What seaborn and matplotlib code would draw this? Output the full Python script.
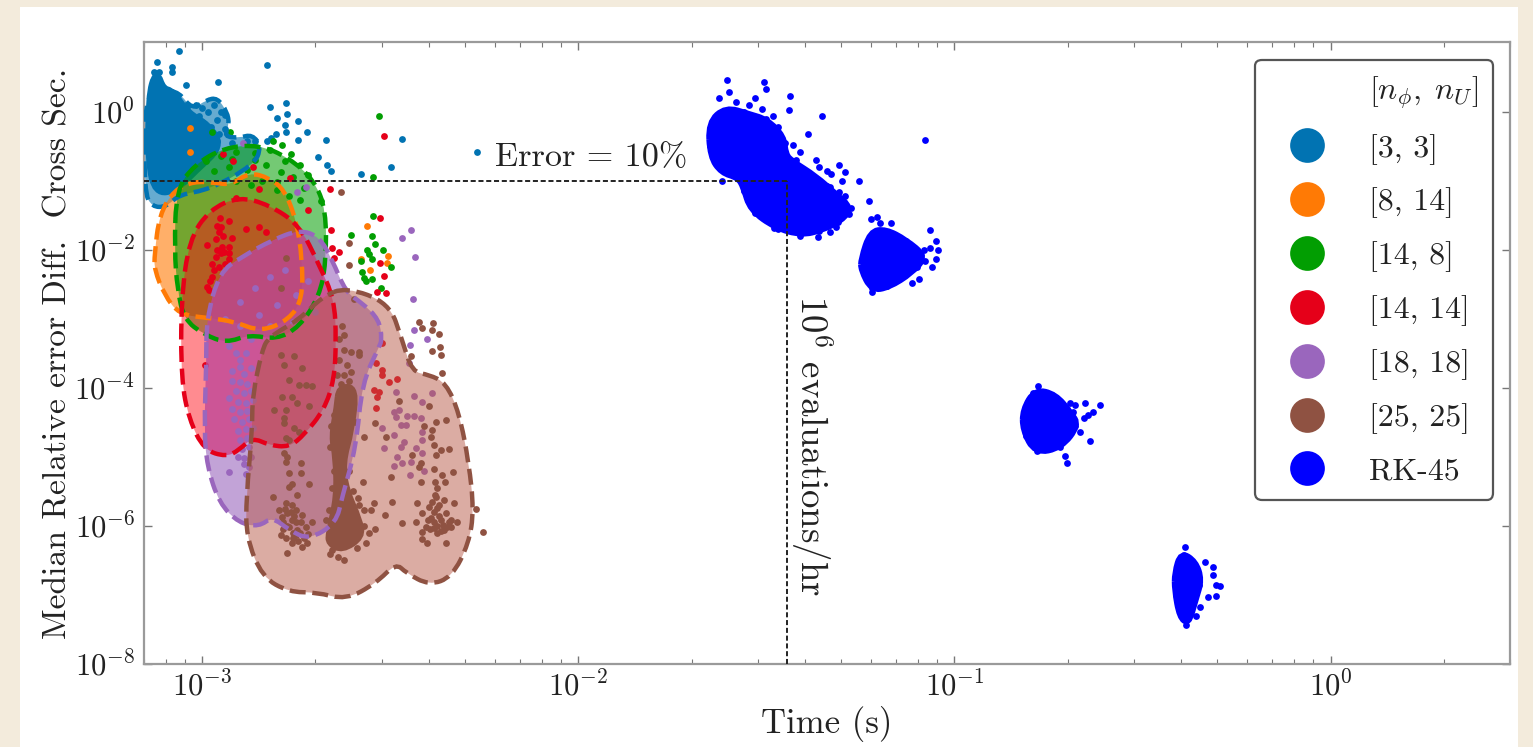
import numpy as np
import pandas as pd
import matplotlib
matplotlib.use('Agg')
import matplotlib.pyplot as plt
import seaborn as sns
from matplotlib.lines import Line2D
from matplotlib.patches import PathPatch, Rectangle
from matplotlib.path import Path
from matplotlib.ticker import LogLocator, NullFormatter

# all values are log10(time), log10(error)
labels = ['[3, 3]', '[8, 14]', '[14, 8]', '[14, 14]', '[18, 18]', '[25, 25]', 'RK-45']
colors = ['#0173b2', '#ff7a05', '#029e02', '#e50019', '#9a66bd', '#8f5242', '#0000ff']
fill_colors = ['#0173b2', '#ff7a05', '#029e02', '#ff0a14', '#9a66bd', '#b85a48']
fill_alpha = [0.6, 0.6, 0.55, 0.47, 0.6, 0.5]

# contour outlines
outline_3_3 = [(-3.154,.22),(-3.106,.32),(-3.061,.28),(-3.027,.03),(-2.989,.17),(-2.96,.20),(-2.934,0),(-2.928,-.19),
               (-2.942,-.36),(-2.902,-.38),(-2.867,-.33),(-2.843,-.51),(-2.862,-.77),(-2.981,-1.13),(-3.061,-1.20),
               (-3.096,-1.38),(-3.133,-1.38),(-3.154,-1.17)]
outline_8_14 = [(-3.127,-2.07),(-3.114,-1.49),(-3.074,-1.13),(-3.021,-1.01),(-2.968,-1.03),(-2.923,-1.06),(-2.875,-.88),
                (-2.822,-.96),(-2.782,-1.13),(-2.75,-1.57),(-2.734,-2.14),(-2.734,-2.72),(-2.769,-3.01),(-2.843,-3.19),
                (-2.915,-3.04),(-2.981,-2.99),(-3.061,-2.94),(-3.101,-2.65),(-3.127,-2.29)]
outline_14_8 = [(-3.069,-1.13),(-3.021,-.77),(-2.942,-.52),(-2.849,-.48),(-2.769,-.67),(-2.703,-.99),(-2.671,-1.42),
                (-2.671,-2.19),(-2.689,-2.68),(-2.742,-3.12),(-2.803,-3.30),(-2.875,-3.23),(-2.936,-3.35),(-2.995,-3.23),
                (-3.048,-3.01),(-3.066,-2.58),(-3.074,-2.0)]
outline_14_14 = [(-3.056,-2.72),(-3.035,-1.86),(-2.981,-1.42),(-2.902,-1.23),(-2.822,-1.35),(-2.742,-1.64),(-2.689,-2.22),
                 (-2.649,-2.72),(-2.644,-3.30),(-2.649,-3.88),(-2.676,-4.32),(-2.729,-4.68),(-2.769,-4.86),(-2.822,-4.83),
                 (-2.867,-4.72),(-2.902,-4.90),(-2.936,-5.0),(-2.995,-4.90),(-3.035,-4.46),(-3.056,-3.88)]
outline_18_18 = [(-2.989,-3.01),(-2.955,-2.33),(-2.894,-2.10),(-2.814,-1.86),(-2.742,-1.71),(-2.689,-1.81),(-2.655,-2.14),
                 (-2.618,-2.62),(-2.575,-2.77),(-2.53,-3.01),(-2.522,-3.30),(-2.53,-3.41),(-2.575,-3.93),(-2.591,-4.86),
                 (-2.628,-5.58),(-2.644,-5.96),(-2.716,-6.20),(-2.769,-6.06),(-2.814,-5.87),(-2.849,-6.01),(-2.902,-5.96),
                 (-2.955,-5.67),(-2.987,-5.14),(-2.995,-4.61),(-2.989,-3.64)]
outline_25_25 = [(-2.618,-2.54),(-2.503,-2.77),(-2.469,-3.30),(-2.442,-3.77),(-2.397,-3.81),(-2.352,-3.93),(-2.317,-4.36),
                 (-2.291,-5.09),(-2.278,-5.77),(-2.291,-6.25),(-2.336,-6.74),(-2.397,-6.86),(-2.458,-6.68),(-2.485,-6.54),
                 (-2.538,-6.83),(-2.618,-7.07),(-2.697,-6.96),(-2.769,-6.96),(-2.841,-6.74),(-2.883,-6.16),(-2.883,-5.58),
                 (-2.867,-4.61),(-2.867,-4.13),(-2.841,-3.45),(-2.822,-3.26),(-2.742,-3.01),(-2.681,-2.68)]
outlines = [outline_3_3, outline_8_14, outline_14_8, outline_14_14, outline_18_18, outline_25_25]

# dense parts, where the points merge into one solid area
core_3_3 = [(-3.14,.22),(-3.122,.57),(-3.106,.32),(-3.08,.29),(-3.04,-.03),(-2.985,-.2),(-2.95,-.5),(-3.02,-.85),
            (-3.07,-1.13),(-3.122,-1.17),(-3.141,-.74)]
core_25_25 = [(-2.636,-3.99),(-2.591,-4.0),(-2.604,-4.61),(-2.628,-5.09),(-2.618,-5.48),(-2.583,-5.91),(-2.575,-6.16),
              (-2.628,-6.35),(-2.663,-6.25),(-2.663,-6.10),(-2.641,-5.58),(-2.644,-5.0),(-2.655,-4.71),(-2.641,-4.28)]
rk_core_a = [(-1.653,-.16),(-1.608,.06),(-1.547,-.04),(-1.499,-.12),(-1.455,-.36),(-1.45,-.62),(-1.433,-.72),(-1.369,-.94),
             (-1.316,-1.20),(-1.276,-1.39),(-1.30,-1.57),(-1.353,-1.71),(-1.406,-1.78),(-1.475,-1.68),(-1.542,-1.42),
             (-1.56,-1.09),(-1.575,-.95),(-1.619,-.88),(-1.648,-.65)]
rk_core_b = [(-1.247,-2.14),(-1.223,-1.74),(-1.183,-1.71),(-1.13,-1.86),(-1.077,-2.10),(-1.114,-2.33),(-1.175,-2.54),
             (-1.22,-2.58),(-1.247,-2.29)]
rk_core_c = [(-.817,-4.32),(-.785,-4.03),(-.732,-4.10),(-.692,-4.36),(-.671,-4.54),(-.716,-4.86),(-.785,-4.94),(-.817,-4.61)]
rk_core_d = [(-.413,-6.68),(-.397,-6.39),(-.36,-6.52),(-.344,-6.78),(-.36,-7.07),(-.378,-7.41),(-.40,-7.32),(-.413,-6.93)]

# single points
pts_3_3 = [(-3.061,.88),(-3.12,.72),(-3.08,.64),(-3.08,.57),(-3.042,.38),(-2.958,.43),(-2.827,.67),(-2.819,.07),(-2.777,.13),
           (-2.801,-.09),(-2.774,-.04),(-2.745,-.14),(-2.78,-.20),(-2.777,-.30),(-2.721,-.30),(-2.745,-.41),(-2.671,-.41),
           (-2.692,-.65),(-2.668,-.78),(-2.657,-.86),(-2.578,-.90),(-2.498,-.80),(-2.469,-.39),(-2.27,-.58),(-2.803,-.33),
           (-2.817,-.38),(-2.827,-.43),(-3.127,.58),(-3.114,.58),(-3.12,.46),(-3.109,.36),(-3.008,-.07),(-2.976,-.22),
           (-2.96,-.12),(-2.95,0),(-3.016,.10),(-3.04,.06),(-2.995,-.22),(-2.955,-.33),(-3.008,-.33),
           (-3.0,.05),(-2.97,.1),(-2.94,-.05),(-2.94,-.25),(-2.985,0),(-3.03,-.1),(-3.0,-.15),(-2.96,-.42),(-2.92,-.45),
           (-2.88,-.42),(-2.86,-.42),(-3.13,.45),(-3.12,.4)]
pts_8_14 = [(-3.032,-.23),(-3.032,-.59),(-2.562,-1.65),(-2.506,-2.09),(-2.509,-2.19),(-2.554,-2.29),(-2.578,-2.14)]
pts_14_8 = [(-2.53,-.07),(-2.546,-.94),(-2.546,-1.51),(-2.604,-1.78),(-2.548,-1.80),(-2.54,-1.91),(-2.562,-2.0),(-2.556,-2.06),
            (-2.548,-2.14),(-2.519,-2.0),(-2.498,-2.25),(-2.578,-2.17),(-2.575,-2.32),(-2.57,-2.41),(-2.564,-2.46),(-2.548,-2.43),
            (-2.525,-2.55),(-2.926,-.29),(-2.973,-.30),(-2.788,-.48),(-2.764,-.61),(-2.811,-.42),(-2.684,-1.30),(-2.99,-.72),
            (-2.95,-.64),(-2.91,-.58),(-2.86,-.60),(-2.82,-.55),(-2.78,-.72),(-2.74,-.78),(-2.72,-.92),(-2.97,-.86),(-2.93,-.80),
            (-2.88,-.85),(-2.83,-.78),(-2.79,-.88),(-2.76,-.95),(-2.84,-1.00),(-2.80,-1.02),(-2.73,-1.10),(-2.77,-1.22),
            (-2.74,-1.28),(-2.80,-1.14),(-2.87,-1.06),(-2.91,-1.0),(-2.86,-.70),(-2.92,-.68)]
pts_14_14 = [(-2.517,-.35),(-2.66,-1.12),(-2.718,-1.43),(-2.527,-1.54),(-2.657,-1.72),(-2.636,-2.04),(-2.655,-1.97),(-2.649,-2.12),
             (-2.527,-2.19),(-2.517,-2.38),(-2.511,-2.62),(-2.535,-2.61),(-2.952,-1.54),(-2.928,-1.59),(-2.95,-1.67),(-2.883,-1.70),
             (-2.849,-1.67),(-2.83,-1.75),(-2.955,-1.75),(-2.92,-1.83),(-2.963,-1.85),(-2.987,-1.93),(-2.947,-1.96),(-2.928,-1.96),
             (-2.942,-2.04),(-2.963,-2.10),(-2.928,-2.14),(-2.955,-2.25),(-2.973,-2.39),(-2.987,-2.54),(-2.981,-2.58),(-2.944,-.62),
             (-2.918,-.72),(-2.865,-.80),(-2.766,-.96),(-2.849,-1.12),(-2.91,-1.25),(-2.522,-3.35),(-2.538,-3.64),(-2.522,-3.74),
             (-2.522,-3.81),(-2.482,-3.87),(-2.503,-3.91),(-2.543,-4.03),(-2.53,-4.06),(-2.535,-4.14),(-2.538,-4.29),(-2.992,-3.67),
             (-2.95,-2.05),(-2.94,-2.2),(-2.96,-2.0),(-2.97,-2.3),(-2.945,-1.8),(-2.93,-2.05),(-2.96,-1.65),(-2.975,-2.2),(-2.98,-2.45)]
pts_18_18 = [(-2.445,-1.72),(-2.469,-1.83),(-2.434,-2.10),(-2.44,-2.71),(-2.437,-3.16),(-2.402,-3.29),(-2.448,-3.38),(-2.724,-1.09),
             (-2.748,-1.16),(-2.891,-.45),(-2.45,-3.64),(-2.485,-4.06),(-2.477,-4.32),(-2.49,-4.35),(-2.485,-4.42),(-2.471,-4.54),
             (-2.458,-4.54),(-2.437,-4.12),(-2.389,-4.07),(-2.416,-4.20),(-2.456,-4.41),(-2.437,-4.41),(-2.418,-4.43),(-2.416,-4.64),
             (-2.416,-4.75),(-2.463,-4.78),(-2.471,-4.85),(-2.482,-5.0),(-2.517,-4.87),(-2.49,-4.68),(-2.522,-4.58),(-2.432,-4.87),
             (-2.416,-4.94),(-2.49,-5.13),(-2.469,-5.09),(-2.445,-5.07),(-2.448,-5.26),(-2.41,-5.20),
             (-2.92,-3.75),(-2.90,-3.70),(-2.89,-3.80),(-2.87,-3.72),(-2.92,-3.90),(-2.90,-3.92),(-2.88,-3.95),(-2.91,-4.05),
             (-2.89,-4.08),(-2.87,-4.05),(-2.93,-4.15),(-2.905,-4.20),(-2.885,-4.22),(-2.865,-4.18),(-2.92,-4.30),(-2.90,-4.35),
             (-2.88,-4.33),(-2.915,-4.45),(-2.895,-4.50),(-2.875,-4.45),(-2.905,-4.62),(-2.885,-4.60),(-2.865,-4.58),(-2.90,-4.75),
             (-2.88,-4.72),(-2.895,-4.88),(-2.875,-4.85),(-2.87,-5.0),(-2.89,-5.02),(-2.93,-5.22),
             (-2.94,-3.0),(-2.90,-2.75),(-2.86,-2.55),(-2.82,-2.40),(-2.78,-2.30),(-2.90,-3.10),(-2.85,-2.95),(-2.80,-2.80),(-2.75,-2.65),
             (-2.93,-3.40),(-2.87,-3.30),(-2.82,-3.10),(-2.72,-2.45),(-2.70,-2.90),(-2.76,-3.05),
             (-2.89,-5.10),(-2.875,-5.15),(-2.905,-5.0),(-2.885,-5.25),(-2.90,-3.60),(-2.885,-3.50),(-2.91,-3.50)]
pts_25_25 = [(-2.636,-3.30),(-2.623,-3.45),(-2.604,-3.48),(-2.583,-3.52),(-2.636,-3.59),(-2.615,-3.67),(-2.604,-3.77),(-2.623,-3.81),
             (-2.641,-3.81),(-2.623,-3.23),(-2.583,-3.48),(-2.628,-3.10),(-2.596,-2.72),(-2.61,-1.90),(-2.61,-2.22),(-2.631,-1.17),
             (-2.79,-3.52),(-2.756,-3.54),(-2.782,-3.67),(-2.734,-3.71),(-2.769,-3.88),(-2.742,-3.96),(-2.724,-3.96),(-2.708,-3.98),
             (-2.788,-4.14),(-2.761,-4.14),(-2.748,-4.22),(-2.809,-4.32),(-2.716,-4.26),(-2.777,-4.32),(-2.782,-4.43),(-2.782,-4.51),
             (-2.756,-4.58),(-2.742,-4.64),(-2.657,-4.56),(-2.777,-4.72),(-2.769,-4.75),(-2.782,-4.94),(-2.774,-5.0),(-2.737,-5.09),
             (-2.777,-5.07),(-2.769,-5.23),(-2.737,-5.23),(-2.761,-5.40),(-2.769,-5.43),(-2.716,-5.39),(-2.748,-5.55),(-2.811,-5.58),
             (-2.777,-5.67),(-2.761,-5.69),(-2.795,-5.77),(-2.774,-5.81),(-2.75,-5.77),(-2.734,-5.84),(-2.788,-5.87),(-2.761,-5.91),
             (-2.737,-5.94),(-2.708,-5.94),(-2.769,-6.01),(-2.748,-6.06),(-2.79,-6.13),(-2.777,-6.17),(-2.761,-6.25),(-2.734,-6.30),
             (-2.774,-6.39),(-2.721,-6.25),(-2.75,-6.13),(-2.724,-6.01),(-2.663,-5.77),(-2.671,-5.91),(-2.556,-6.10),(-2.541,-6.04),
             (-2.588,-6.32),(-2.623,-6.49),(-2.655,-6.35),(-2.57,-5.77),(-2.543,-5.67),(-2.551,-5.77),(-2.514,-5.84),(-2.572,-5.36),
             (-2.583,-5.69),(-2.495,-5.65),(-2.469,-5.96),(-2.432,-5.94),(-2.429,-5.67),(-2.541,-4.51),(-2.511,-4.71),(-2.57,-4.71),
             (-2.498,-5.29),(-2.477,-4.19),(-2.397,-4.26),(-2.41,-4.56),(-2.389,-4.61),(-2.378,-4.49),(-2.352,-4.46),(-2.392,-4.71),
             (-2.384,-4.83),(-2.344,-4.88),(-2.365,-4.90),(-2.378,-4.97),(-2.442,-4.98),(-2.418,-5.09),(-2.424,-5.14),(-2.384,-5.17),
             (-2.363,-5.26),(-2.333,-5.22),(-2.418,-5.36),(-2.381,-5.36),(-2.355,-5.36),(-2.376,-5.45),(-2.378,-5.58),(-2.357,-5.62),
             (-2.331,-5.67),(-2.397,-5.72),(-2.416,-5.81),(-2.376,-5.74),(-2.352,-5.81),(-2.392,-5.88),(-2.365,-5.91),(-2.339,-5.91),
             (-2.323,-5.94),(-2.405,-6.01),(-2.384,-6.03),(-2.357,-6.06),(-2.416,-6.09),(-2.339,-6.01),(-2.376,-6.10),(-2.416,-6.19),
             (-2.402,-6.25),(-2.352,-6.25),(-2.272,-5.75),(-2.254,-6.09),(-2.424,-3.04),(-2.386,-3.06),(-2.389,-3.16),(-2.37,-3.22),
             (-2.416,-3.13),(-2.368,-3.41),(-2.389,-3.46),(-2.365,-3.52),(-2.445,-3.54),(-2.363,-3.78),(-2.79,-2.55),(-2.777,-2.12),
             (-2.65,-4.4),(-2.66,-4.85),(-2.65,-5.2),(-2.60,-4.2),(-2.595,-4.5),(-2.61,-5.2),(-2.60,-5.5),(-2.655,-5.45),(-2.585,-5.6),
             (-2.57,-6.0),(-2.565,-6.25),(-2.66,-6.4),(-2.64,-6.45),
             (-2.78,-5.75),(-2.765,-5.8),(-2.755,-5.85),(-2.785,-5.95),(-2.775,-6.0),(-2.75,-5.95),(-2.74,-6.1),(-2.76,-6.1),
             (-2.785,-6.05),(-2.73,-6.18),(-2.76,-6.18),(-2.72,-6.12),(-2.745,-6.22),
             (-2.39,-5.65),(-2.385,-5.8),(-2.37,-5.85),(-2.36,-5.98),(-2.385,-5.95),(-2.40,-5.92),(-2.375,-6.0),(-2.395,-6.05),
             (-2.365,-6.07),(-2.35,-6.02),(-2.345,-5.95),(-2.38,-5.55),(-2.37,-5.7),(-2.61,-3.9),(-2.63,-3.95)]
pts_rk = [(-1.606,.46),(-1.507,.43),(-1.502,.33),(-1.60,.28),(-1.627,.20),(-1.582,.14),(-1.529,.20),(-1.547,.10),(-1.513,.04),
          (-1.483,-.06),(-1.436,.22),(-1.441,.03),(-1.353,-.07),(-1.39,-.32),(-1.077,-.41),(-1.457,-.45),(-1.43,-.49),(-1.412,-.58),
          (-1.369,-.70),(-1.361,-.80),(-1.34,-.86),(-1.327,-.90),(-1.308,-.78),(-1.292,-.87),(-1.30,-1.01),(-1.255,-1.01),(-1.332,-1.09),
          (-1.308,-1.16),(-1.29,-1.22),(-1.274,-1.39),(-1.226,-1.29),(-1.316,-1.67),(-1.332,-1.74),(-1.364,-1.81),(-1.619,-1.01),
          (-1.481,-1.68),(-1.223,-1.55),(-1.207,-1.52),(-1.197,-1.62),(-1.17,-1.61),(-1.064,-1.71),(-1.05,-1.87),(-1.064,-1.97),
          (-1.045,-2.01),(-1.05,-2.14),(-1.061,-2.25),(-1.077,-2.17),(-1.10,-2.25),(-1.093,-2.42),(-1.114,-2.48),(-1.22,-2.61),
          (-.612,-4.25),(-.631,-4.35),(-.644,-4.39),(-.655,-4.43),(-.652,-4.22),(-.679,-4.25),(-.692,-4.22),(-.639,-4.77),(-.665,-4.64),
          (-.705,-4.99),(-.70,-5.09),(-.777,-3.97),(-.684,-4.35),(-.386,-6.30),(-.333,-6.52),(-.312,-6.59),(-.312,-6.71),(-.304,-6.86),
          (-.293,-6.87),(-.304,-7.01),(-.325,-7.03),(-.347,-7.17),(-.357,-7.30),(-.384,-7.43),
          (-1.64,-.30),(-1.65,-.5),(-1.63,-.75),(-1.60,.02),(-1.56,.0),(-1.50,-.10),(-1.47,-.22),(-1.45,-.45),(-1.42,-.70),(-1.38,-.95),
          (-1.34,-1.08),(-1.31,-1.28),(-1.28,-1.48),(-1.31,-1.6),(-1.36,-1.73),(-1.41,-1.8),(-1.47,-1.7),(-1.53,-1.47),(-1.56,-1.15),
          (-1.24,-2.2),(-1.22,-1.78),(-1.18,-1.74),(-1.13,-1.88),(-1.10,-2.05),(-1.12,-2.3),(-1.18,-2.52),(-1.22,-2.56),(-1.09,-2.08),
          (-1.08,-2.0),(-.815,-4.45),(-.79,-4.08),(-.74,-4.1),(-.70,-4.3),(-.68,-4.55),(-.72,-4.85),(-.78,-4.92),(-.81,-4.7),
          (-.41,-6.75),(-.39,-6.42),(-.36,-6.6),(-.35,-6.85),(-.37,-7.1),(-.38,-7.35),(-.41,-7.0)]
pts_all = [pts_3_3, pts_8_14, pts_14_8, pts_14_14, pts_18_18, pts_25_25, pts_rk]

# guide lines
err_level = 0.1
time_level = 0.0358


def smooth_path(pts):
    # closed quadratic curve, the typed points are its control points
    p = np.array(pts)
    mid = (p + np.roll(p, -1, axis=0)) / 2
    verts = [mid[-1]]
    codes = [Path.MOVETO]
    for i in range(len(p)):
        verts += [p[i], mid[i]]
        codes += [Path.CURVE3, Path.CURVE3]
    return Path(10 ** np.array(verts), codes)


sns.set_style('white')
plt.rcParams['font.family'] = ['cmr10', 'DejaVu Serif']
plt.rcParams['mathtext.fontset'] = 'cm'
plt.rcParams['axes.formatter.use_mathtext'] = True
plt.rcParams['axes.unicode_minus'] = False

fig = plt.figure(figsize=(15.33, 7.47), dpi=100, facecolor='#f3ebdc')
fig.add_artist(Rectangle((20 / 1533, 0), 1498 / 1533, 740 / 747, transform=fig.transFigure,
                         facecolor='white', edgecolor='none', zorder=-1))
ax = fig.add_axes([144 / 1533, 83 / 747, 1366 / 1533, 622 / 747])
ax.set_xscale('log')
ax.set_yscale('log')
ax.set_xlim(7.0e-4, 3.0)
ax.set_ylim(1e-8, 10.2)
ax.patch.set_alpha(0)

z = 2
for i in range(6):
    patch = ax.add_patch(PathPatch(smooth_path(outlines[i]), facecolor=fill_colors[i], alpha=fill_alpha[i],
                                   edgecolor='none', zorder=z))
    if i == 0:
        ax.add_patch(PathPatch(smooth_path(core_3_3), facecolor=colors[0], edgecolor=colors[0], lw=6, zorder=z))
    if i == 4:
        # red and purple overlap shows up pink
        pink = ax.add_patch(PathPatch(smooth_path(outline_14_14), facecolor='#d9307f', alpha=0.45, edgecolor='none', zorder=z))
        pink.set_clip_path(patch)
    if i == 5:
        ax.add_patch(PathPatch(smooth_path(core_25_25), facecolor=colors[5], edgecolor=colors[5], lw=5, zorder=z))
    # dashed contours stay visible over the other fills
    ax.add_patch(PathPatch(smooth_path(outlines[i]), facecolor='none', edgecolor=colors[i], lw=3.2,
                           linestyle=(0, (3.6, 1.5)), zorder=8))
    df = pd.DataFrame(pts_all[i], columns=['t', 'e'])
    sns.scatterplot(x=10 ** df['t'], y=10 ** df['e'], color=colors[i], s=24, linewidth=0, ax=ax, legend=False, zorder=z)
    z += 1

for core in [rk_core_a, rk_core_b, rk_core_c, rk_core_d]:
    ax.add_patch(PathPatch(smooth_path(core), facecolor=colors[6], edgecolor=colors[6], lw=5, zorder=z))
df = pd.DataFrame(pts_rk, columns=['t', 'e'])
sns.scatterplot(x=10 ** df['t'], y=10 ** df['e'], color=colors[6], s=24, linewidth=0, ax=ax, legend=False, zorder=z)

# 10% error and 10^6 evaluations/hr lines
ax.plot([7.0e-4, time_level], [err_level, err_level], color='#222222', lw=1.4, ls=(0, (2.6, 1.4)), zorder=9)
ax.plot([time_level, time_level], [1e-8, err_level], color='#222222', lw=1.4, ls=(0, (2.6, 1.4)), zorder=9)
ax.text(0.006, 0.22, 'Error = 10%', fontsize=24.6, ha='left', va='center', color='#222222', zorder=10)
ax.text(0.0418, 1.45e-5, r'$10^{6}$ evaluations/hr', fontsize=26.5, rotation=270, ha='center', va='center',
        color='#222222', zorder=10)

ax.set_xlabel('Time (s)', fontsize=25, color='#222222', labelpad=2.4)
ax.set_ylabel('Median Relative error Diff.  Cross Sec.', fontsize=24.2, color='#222222', labelpad=1.5)

ax.xaxis.set_major_locator(LogLocator(base=10, numticks=8))
ax.xaxis.set_minor_locator(LogLocator(base=10, subs=np.arange(2, 10) * 0.1, numticks=12))
ax.xaxis.set_minor_formatter(NullFormatter())
ax.set_yticks([1e-8, 1e-6, 1e-4, 1e-2, 1e0])
ax.yaxis.set_minor_locator(plt.NullLocator())
ax.tick_params(which='major', direction='in', length=6, width=1, color='#777777', top=True, right=True,
               bottom=True, left=True, labelsize=22, labelcolor='#222222')
ax.tick_params(axis='x', which='major', pad=5)
ax.tick_params(axis='y', which='major', pad=6.5)
ax.tick_params(which='minor', direction='in', length=3.5, width=0.8, color='#777777', top=True, bottom=True)
for s in ax.spines.values():
    s.set_color('#9a9a9a')
    s.set_linewidth(1.6)

handles = [Line2D([], [], ls='none', label=r'$[n_\phi,\;n_U]\ $')]
for c, lab in zip(colors, labels):
    handles.append(Line2D([], [], ls='none', marker='o', ms=25, mfc=c, mec='none', label=lab))
leg = ax.legend(handles=handles, loc='upper right', bbox_to_anchor=(0.9875, 0.971), borderaxespad=0, fontsize=23,
                frameon=True, fancybox=True, framealpha=1, edgecolor='#555555', facecolor='white',
                labelspacing=0.72, handletextpad=0.82, borderpad=0.45, handlelength=2.3, labelcolor='#222222')
leg.get_frame().set_linewidth(1.6)
leg.set_zorder(20)

fig.savefig('out.png', dpi=100, facecolor=fig.get_facecolor())
plt.close()
